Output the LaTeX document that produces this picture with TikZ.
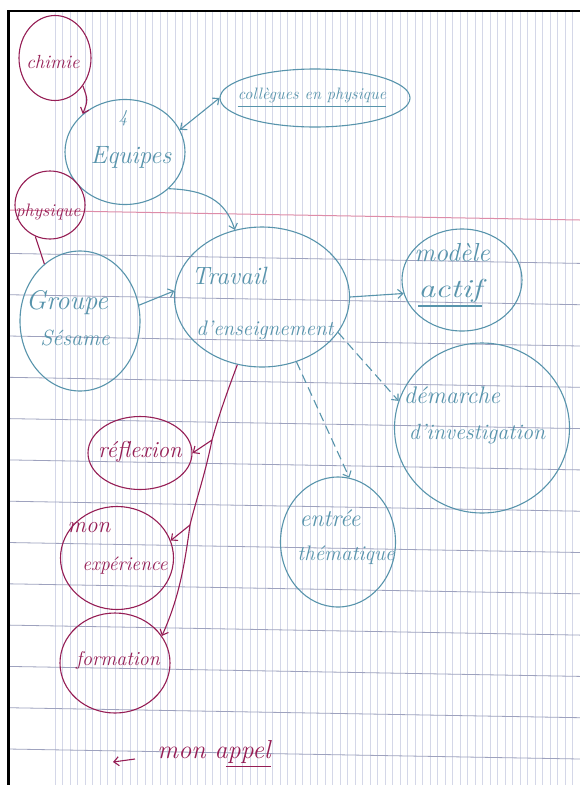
\documentclass[tikz,border=0pt]{standalone}
\usetikzlibrary{shapes.geometric,arrows.meta}
\definecolor{inkb}{RGB}{88,148,172}
\definecolor{inkm}{RGB}{150,30,85}
\definecolor{vline}{RGB}{212,215,232}
\definecolor{hline}{RGB}{158,162,190}
\definecolor{rline}{RGB}{222,140,168}
\begin{document}
\begin{tikzpicture}[x=1pt,y=-1pt,
  bblob/.style={ellipse,draw=inkb,line width=1.1pt,inner sep=0pt},
  mblob/.style={ellipse,draw=inkm,line width=1.1pt,inner sep=0pt},
  btxt/.style={text=inkb,inner sep=0pt},
  mtxt/.style={text=inkm,inner sep=0pt},
  barb/.style={-{Straight Barb[length=5pt,width=9pt]}},
  bline/.style={draw=inkb,line width=1.1pt},
  mline/.style={draw=inkm,line width=1.1pt},
  fs/.style={font=\fontsize{#1}{#1}\selectfont\itshape}]
\useasboundingbox (0,0) rectangle (580,785);
\fill[white] (0,0) rectangle (580,785);
% lined paper
\foreach \i in {0,...,70} {\draw[vline,line width=0.7pt] ({55+7.5*\i},11) -- ({55+7.5*\i},785);}
\foreach \k in {0,...,12} {\draw[hline,line width=0.8pt] (8,{253.4+41.3*\k}) -- (580,{263.4+41.3*\k});}
\draw[rline,line width=1pt] (8,210) -- (580,220);
\draw[black,line width=2.5pt] (8.5,785) -- (8.5,11) -- (580,11);

% shapes
\node[mblob,minimum width=72pt,minimum height=85pt] (chimie) at (55,58) {};
\node[mtxt,fs=19] (chimiet) at (53,62) {chimie};
\node[bblob,minimum width=120pt,minimum height=105pt] (equipes) at (125,152) {};
\node[btxt,fs=18] (quatre) at (123,118) {4};
\node[btxt,fs=25] (equipest) at (131,157) {Equipes};
\node[bblob,minimum width=190pt,minimum height=58pt] (collegues) at (315,98) {};
\node[btxt,fs=16.5] (colleguest) at (312,95) {collègues en physique};
\draw[bline] ([yshift=-4pt]colleguest.south west) -- ([yshift=-4pt]colleguest.south east);
\node[mblob,minimum width=70pt,minimum height=68pt] (physique) at (50,205) {};
\node[mtxt,fs=18] (physiquet) at (48,212) {physique};
\node[bblob,minimum width=120pt,minimum height=140pt] (groupe) at (80,321) {};
\node[btxt,fs=27] (groupet) at (67,303) {Groupe};
\node[btxt,fs=22] (sesamet) at (75,338) {Sésame};
\node[bblob,minimum width=175pt,minimum height=140pt] (travail) at (262,297) {};
\node[btxt,fs=25] (travailt) at (229,276) {Travail};
\node[btxt,fs=21] (enseignt) at (265,330) {d'enseignement};
\node[bblob,minimum width=120pt,minimum height=102pt] (modele) at (462,280) {};
\node[btxt,fs=26] (modelet) at (452,253) {modèle};
\node[btxt,fs=26,xscale=1.3] (actift) at (450,291) {actif};
\draw[bline] ([yshift=-3pt]actift.south west) -- ([yshift=-3pt]actift.south east);
\node[bblob,minimum width=175pt,minimum height=170pt] (demarche) at (482,428) {};
\node[btxt,fs=24] (demarchet) at (452,395) {démarche};
\node[btxt,fs=22] (investt) at (477,434) {d'investigation};
\node[bblob,minimum width=115pt,minimum height=130pt] (entree) at (338,542) {};
\node[btxt,fs=24] (entreet) at (330,518) {entrée};
\node[btxt,fs=21] (thematiquet) at (346,555) {thématique};
\node[mblob,minimum width=104pt,minimum height=73pt] (reflexion) at (140,453) {};
\node[mtxt,fs=23] (reflexiont) at (140,452) {réflexion};
\node[mblob,minimum width=113pt,minimum height=103pt] (experience) at (117,558) {};
\node[mtxt,fs=23] (mont) at (89,528) {mon};
\node[mtxt,fs=19.5] (experiencet) at (125,566) {expérience};
\node[mblob,minimum width=110pt,minimum height=100pt] (formation) at (115,663) {};
\node[mtxt,fs=20] (formationt) at (118,660) {formation};
\node[mtxt,fs=26] (appel) at (214,752) {mon appel};
\draw[mline] ([yshift=-3pt,xshift=-45pt]appel.south east) -- ([yshift=-3pt]appel.south east);

% connectors
\draw[mline,barb] (chimie.-45) .. controls (88,100) .. (equipes.138);
\draw[bline,{Straight Barb[length=5pt,width=9pt]}-{Straight Barb[length=5pt,width=9pt]}] (equipes.22) -- (collegues.west);
\draw[bline,barb] (equipes.-40) .. controls (205,190) and (225,200) .. (travail.112);
\draw[mline] (physique.-115) -- (groupe.122);
\draw[bline,barb] (groupe.15) -- (travail.176);
\draw[bline,barb] (travail.east) -- (modele.193);
\draw[bline,barb,dashed,dash pattern=on 9pt off 5pt] (travail.-25) -- (demarche.162);
\draw[bline,barb,dashed,dash pattern=on 9pt off 5pt] (travail.-62) -- (entree.80);
\coordinate (c1) at (212,440);
\coordinate (c2) at (190,525);
\draw[mline,barb] (travail.-110) .. controls (226,395) and (218,418) .. (c1)
   .. controls (205,475) and (196,500) .. (c2)
   .. controls (184,570) and (178,600) .. (formation.30);
\draw[mline,barb] (c1) -- (reflexion.east);
\draw[mline,barb] (c2) -- (experience.18);
\coordinate (a1) at (135,759);
\coordinate (a2) at (113,762);
\draw[mline,barb] (a1) -- (a2);
\end{tikzpicture}
\end{document}
